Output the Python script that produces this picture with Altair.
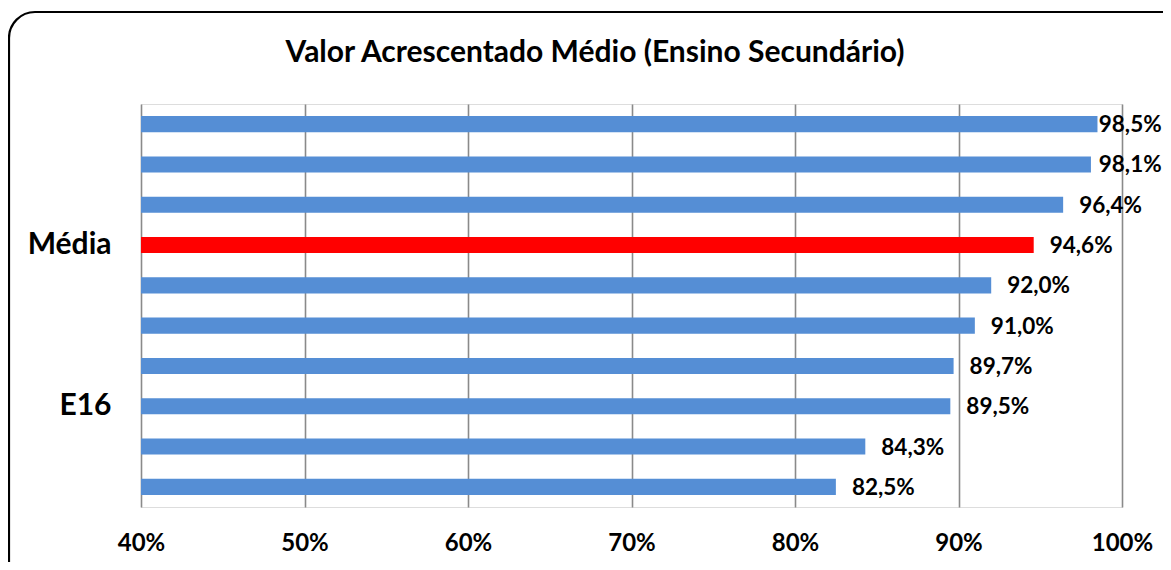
import altair as alt
import pandas as pd

categories = ["E01", "E02", "E03", "Média", "E05", "E06", "E07", "E16", "E09", "E10"]
values = [98.5, 98.1, 96.4, 94.6, 92.0, 91.0, 89.7, 89.5, 84.3, 82.5]
highlight = ["Média"]
x_ticks = [40, 50, 60, 70, 80, 90, 100]
title_text = "Valor Acrescentado Médio (Ensino Secundário)"

df = pd.DataFrame({"cat": categories, "val": values})
df["label"] = df["val"].map(lambda v: f"{v:.1f}%".replace(".", ","))
df["kind"] = df["cat"].map(lambda c: "media" if c in highlight else "escola")

FONT = "Lato"

y_enc = alt.Y("cat:N", sort=categories, title=None,
              scale=alt.Scale(paddingInner=0.6, paddingOuter=0.3),
              axis=alt.Axis(labelExpr="datum.label == 'Média' || datum.label == 'E16' ? datum.label : ''",
                            labelFontSize=30, labelFontWeight="bold", labelFont=FONT,
                            labelColor="black", labelPadding=30, ticks=False, domain=False,
                            grid=False))
x_enc = alt.X("val:Q", title=None,
              scale=alt.Scale(domain=[40, 100], nice=False, zero=False),
              axis=alt.Axis(values=x_ticks, labelExpr="datum.value + '%'",
                            labelFontSize=24, labelFontWeight="bold", labelFont=FONT,
                            labelColor="black", labelPadding=24, ticks=False, domain=False,
                            labelFlush=False,
                            grid=True, gridColor="#8a8a8a", gridWidth=1.6))

bars = alt.Chart(df).mark_bar().encode(
    y=y_enc,
    x=x_enc,
    x2=alt.datum(40),
    color=alt.Color("kind:N", scale=alt.Scale(domain=["escola", "media"], range=["#558ED5", "#FF0000"]), legend=None),
)

text = alt.Chart(df).transform_calculate(
    lx="min(datum.val, 97.6)"
).mark_text(align="left", baseline="middle", dx=16, dy=1, fontSize=22.5,
            fontWeight="bold", font=FONT, color="black", clip=False).encode(
    y=alt.Y("cat:N", sort=categories),
    x=alt.X("lx:Q"),
    text="label:N",
)

title = alt.Chart(pd.DataFrame({"t": [title_text]})).mark_text(
    align="center", baseline="middle", fontSize=30, fontWeight="bold", font=FONT,
    color="black", clip=False
).encode(text="t:N", x=alt.value(454), y=alt.value(-51))

frame = alt.Chart(pd.DataFrame({"a": [0]})).mark_rect(
    fill=None, fillOpacity=0, stroke="black", strokeWidth=2.2, cornerRadius=26, clip=False
).encode(
    x=alt.value(-132), x2=alt.value(1060), y=alt.value(-92), y2=alt.value(500)
)

chart = alt.layer(bars, text, title, frame).properties(
    width=981, height=403,
    autosize=alt.AutoSizeParams(type="none"),
    padding={"left": 133, "top": 96, "right": 41, "bottom": 55},
).configure_view(stroke=None).configure(background="white")

chart.save("out.html", embed_options={"renderer": "svg", "actions": False})
